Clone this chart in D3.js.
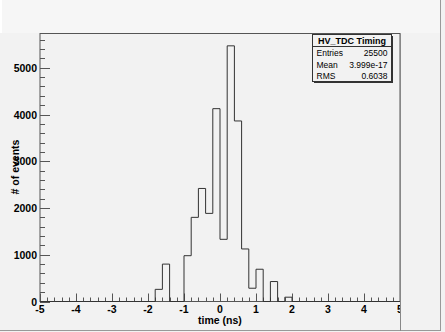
<!DOCTYPE html>
<html>
<head>
<meta charset="utf-8">
<script src="https://cdn.jsdelivr.net/npm/d3@7/dist/d3.min.js"></script>
<style>
  body { margin: 0; background: #f2f2f2; }
  svg { display: block; }
  text { font-family: "Liberation Sans", Arial, Helvetica, sans-serif; }
</style>
</head>
<body>
<svg width="445" height="332"></svg>
<script>
'use strict'

// histogram: 50 bins of 0.2 ns from -5 to 5
var binLow = d3.range(50).map(function(i) { return -5 + i * 0.2 })
var counts = [
  0, 0, 0, 0, 0, 0, 0, 0, 0, 0,
  0, 0, 0, 0, 0, 0, 260, 800, 0, 0,
  980, 1800, 2418, 1885, 4125, 1330, 5469, 3862, 1124, 284,
  690, 0, 427, 0, 92, 0, 0, 0, 0, 0,
  0, 0, 0, 0, 0, 0, 0, 0, 0, 0
]
var xTicks = [-5, -4, -3, -2, -1, 0, 1, 2, 3, 4, 5]
var yTicks = [0, 1000, 2000, 3000, 4000, 5000]
var statNames = ['Entries', 'Mean', 'RMS']
var statValues = ['25500', '3.999e-17', '0.6038']
var histTitle = 'HV_TDC Timing'

var svg = d3.select('svg')
var lineCol = '#555'

var frame = { left: 40, right: 400, top: 33.5, bottom: 301.5 }

var x = d3.scaleLinear().domain([-5, 5]).range([frame.left, frame.right])
var y = d3.scaleLinear().domain([0, 5733]).range([frame.bottom, frame.top])

// the pad cuts off whatever pokes past its right edge
svg.append('defs').append('clipPath').attr('id', 'pad')
  .append('rect').attr('x', 0).attr('y', 0).attr('width', 400.5).attr('height', 332)

// canvas pieces
svg.append('rect').attr('x', 0).attr('y', 0).attr('width', 445).attr('height', 332).attr('fill', '#f2f2f2')
svg.append('rect').attr('x', 0).attr('y', 0).attr('width', 440).attr('height', 33).attr('fill', '#f6f6f6')
svg.append('rect').attr('x', 0).attr('y', 0).attr('width', 2).attr('height', 33).attr('fill', '#fff')
svg.append('line').attr('x1', 440.5).attr('x2', 440.5).attr('y1', 0).attr('y2', 331)
  .attr('stroke', '#999')
svg.append('line').attr('x1', 0).attr('x2', 441).attr('y1', 330.5).attr('y2', 330.5)
  .attr('stroke', '#999')

// frame
svg.append('rect')
  .attr('x', frame.left).attr('y', frame.top)
  .attr('width', frame.right - frame.left).attr('height', frame.bottom - frame.top)
  .attr('fill', 'none').attr('stroke', lineCol)

// x ticks
var xMinor = d3.range(-5, 5.001, 0.2)
svg.append('g').selectAll('line')
  .data(xMinor)
  .enter().append('line')
  .attr('x1', function(d) { return Math.round(x(d)) + 0.5 })
  .attr('x2', function(d) { return Math.round(x(d)) + 0.5 })
  .attr('y1', frame.bottom)
  .attr('y2', function(d) {
    var isMajor = Math.abs(d - Math.round(d)) < 1e-6
    return frame.bottom - (isMajor ? 8 : 4)
  })
  .attr('stroke', lineCol)

svg.append('g').attr('clip-path', 'url(#pad)').selectAll('text')
  .data(xTicks)
  .enter().append('text')
  .attr('x', function(d) { return x(d) })
  .attr('y', 312.5)
  .attr('text-anchor', 'middle')
  .attr('font-size', '10.5px')
  .attr('font-weight', 'bold')
  .text(function(d) { return d })

svg.append('line').attr('x1', 400.5).attr('x2', 400.5).attr('y1', frame.top).attr('y2', 331)
  .attr('stroke', '#888')

// y ticks
var yMinor = d3.range(0, 5733, 200)
svg.append('g').selectAll('line')
  .data(yMinor)
  .enter().append('line')
  .attr('y1', function(d) { return Math.round(y(d)) + 0.5 })
  .attr('y2', function(d) { return Math.round(y(d)) + 0.5 })
  .attr('x1', frame.left)
  .attr('x2', function(d) { return frame.left + (d % 1000 === 0 ? 10 : 5) })
  .attr('stroke', lineCol)

svg.append('g').selectAll('text')
  .data(yTicks)
  .enter().append('text')
  .attr('x', 37)
  .attr('y', function(d) { return y(d) + 4 })
  .attr('text-anchor', 'end')
  .attr('font-size', '10.5px')
  .attr('font-weight', 'bold')
  .text(function(d) { return d })

// axis titles
svg.append('text')
  .attr('x', 220).attr('y', 324)
  .attr('text-anchor', 'middle')
  .attr('font-size', '10.5px')
  .attr('font-weight', 'bold')
  .text('time (ns)')

svg.append('text')
  .attr('transform', 'translate(19,167) rotate(-90)')
  .attr('text-anchor', 'middle')
  .attr('font-size', '10.5px')
  .attr('font-weight', 'bold')
  .text('# of events')

// histogram outline
var pts = binLow.map(function(lo, i) { return [lo, counts[i]] })
pts.unshift([-5, 0])
pts.push([5, counts[counts.length - 1]])

var step = d3.line()
  .x(function(d) { return x(d[0]) })
  .y(function(d) { return y(d[1]) })
  .curve(d3.curveStepAfter)

svg.append('path')
  .attr('d', step(pts))
  .attr('fill', 'none')
  .attr('stroke', '#333')
  .attr('stroke-width', 1)

// stats box
var box = { x: 312.5, y: 34.5, w: 79, h: 47 }
svg.append('rect')
  .attr('x', box.x + 1.5).attr('y', box.y + 1.5)
  .attr('width', box.w).attr('height', box.h)
  .attr('fill', '#333')
svg.append('rect')
  .attr('x', box.x).attr('y', box.y)
  .attr('width', box.w).attr('height', box.h)
  .attr('fill', '#f2f2f2').attr('stroke', '#333')
svg.append('line')
  .attr('x1', box.x).attr('x2', box.x + box.w)
  .attr('y1', 46.5).attr('y2', 46.5)
  .attr('stroke', '#333')

svg.append('text')
  .attr('x', box.x + box.w / 2).attr('y', 44)
  .attr('text-anchor', 'middle')
  .attr('font-size', '9px')
  .attr('font-weight', 'bold')
  .text(histTitle)

var rowY = [56, 67.5, 79]
statNames.forEach(function(n, i) {
  svg.append('text')
    .attr('x', box.x + 4).attr('y', rowY[i])
    .attr('font-size', '8.5px')
    .text(n)
  svg.append('text')
    .attr('x', box.x + box.w - 4).attr('y', rowY[i])
    .attr('text-anchor', 'end')
    .attr('font-size', '8.5px')
    .text(statValues[i])
})
</script>
</body>
</html>
